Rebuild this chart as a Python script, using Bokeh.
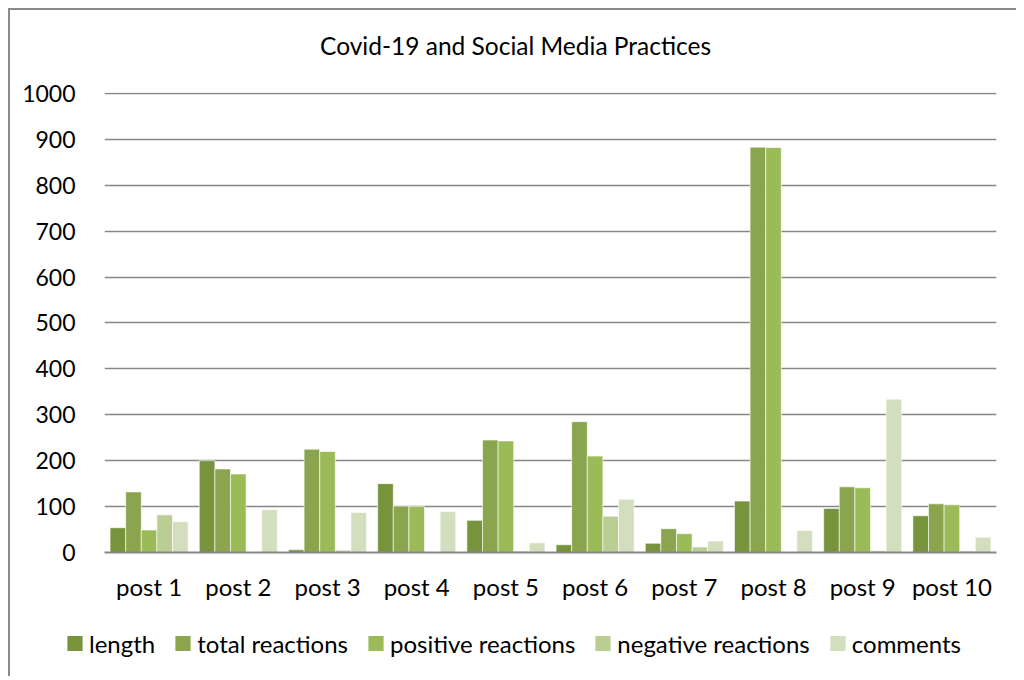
from bokeh.plotting import figure
from bokeh.layouts import column, row
from bokeh.models import FactorRange, Range1d, Legend, LegendItem, FixedTicker, ColumnDataSource, Label
from bokeh.transform import dodge
from bokeh.embed import file_html
from bokeh.resources import INLINE

title_text = "Covid-19 and Social Media Practices"
posts = ["post 1", "post 2", "post 3", "post 4", "post 5", "post 6", "post 7", "post 8", "post 9", "post 10"]
length = [54, 200, 6, 150, 70, 17, 20, 112, 96, 80]
total_reactions = [132, 182, 225, 101, 245, 285, 52, 883, 143, 106]
positive_reactions = [49, 171, 220, 100, 243, 210, 41, 882, 141, 104]
negative_reactions = [82, 0, 5, 0, 3, 79, 12, 0, 4, 3]
comments = [67, 93, 87, 89, 21, 116, 25, 48, 334, 33]
series_names = ["length", "total reactions", "positive reactions", "negative reactions", "comments"]
y_ticks = [0, 100, 200, 300, 400, 500, 600, 700, 800, 900, 1000]

colors = ["#77933C", "#8BA54F", "#9BBB59", "#BACE93", "#D2DEBD"]
FONT = "Lato"
W = 1006

# ---- title strip (its frame is aligned with the main chart's frame) ----
tf = figure(width=W, height=60, output_backend="svg", toolbar_location=None,
            x_range=Range1d(0, 1), y_range=Range1d(0, 1), min_border=0,
            x_axis_location=None, y_axis_location=None)
tf.grid.visible = False
tf.outline_line_color = None
tf.add_layout(Label(x=0.4608, y=0.4167, text=title_text, text_align="center", text_baseline="middle",
                    text_font=FONT, text_font_size="24.5px", text_color="#000000"))

# ---- main chart ----
source = ColumnDataSource(dict(
    posts=posts, length=length, total=total_reactions, positive=positive_reactions,
    negative=negative_reactions, comments=comments))
cols = ["length", "total", "positive", "negative", "comments"]

p = figure(x_range=FactorRange(*posts), y_range=Range1d(0, 1002),
           width=W, height=540, output_backend="svg", toolbar_location=None,
           min_border_left=94, min_border_right=20, min_border_top=22, min_border_bottom=58)
p.outline_line_color = None

bw = 0.175
for i, (c, col) in enumerate(zip(cols, colors)):
    off = (i - 2) * bw
    p.vbar(x=dodge("posts", off, range=p.x_range), top=c, width=bw, source=source,
           fill_color=col, line_color="white", line_width=1, line_alpha=0.6)

p.yaxis.ticker = FixedTicker(ticks=y_ticks)
p.yaxis.axis_line_color = None
p.yaxis.major_tick_line_color = None
p.yaxis.minor_tick_line_color = None
p.yaxis.major_label_standoff = 23
p.yaxis.major_label_text_font = FONT
p.yaxis.major_label_text_font_size = "23px"
p.yaxis.major_label_text_color = "#000000"

p.xaxis.axis_line_color = "#878787"
p.xaxis.axis_line_width = 2
p.xaxis.major_tick_line_color = None
p.xaxis.minor_tick_line_color = None
p.xaxis.major_label_standoff = 13
p.xaxis.major_label_text_font = FONT
p.xaxis.major_label_text_font_size = "24px"
p.xaxis.major_label_text_color = "#000000"

p.xgrid.grid_line_color = None
p.ygrid.grid_line_color = "#878787"
p.ygrid.grid_line_width = 1.6

# ---- legend strip ----
lf = figure(width=W, height=66, output_backend="svg", toolbar_location=None,
            x_range=Range1d(0, 1), y_range=Range1d(0, 1), min_border=0,
            x_axis_location=None, y_axis_location=None)
lf.grid.visible = False
lf.outline_line_color = None
leg_renderers = [lf.quad(left=[-5], right=[-4], bottom=[-5], top=[-4], fill_color=col, line_color=None)
                 for col in colors]
legend = Legend(items=[LegendItem(label=n, renderers=[r]) for n, r in zip(series_names, leg_renderers)],
                orientation="horizontal", location="center")
legend.glyph_width = 19
legend.glyph_height = 19
legend.label_standoff = 5
legend.spacing = 18
legend.padding = 0
legend.margin = 0
legend.border_line_color = None
legend.background_fill_alpha = 0
legend.label_text_font = FONT
legend.label_text_font_size = "24px"
legend.label_text_color = "#000000"
lf.add_layout(legend, "center")

layout = column(tf, p, row(lf), spacing=0)
layout.styles = {"margin-left": "8px", "margin-top": "8px",
                 "border-left": "2px solid #8a8a8a", "border-top": "2px solid #8a8a8a"}

open("out.html", "w").write(file_html(layout, INLINE))
